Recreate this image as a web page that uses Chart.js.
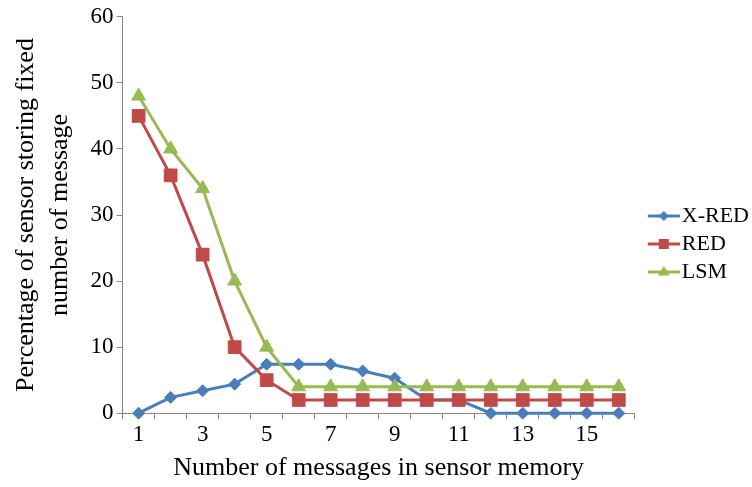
<!DOCTYPE html>
<html>
<head>
<meta charset="utf-8">
<script src="https://cdn.jsdelivr.net/npm/chart.js@4/dist/chart.umd.min.js"></script>
<style>
  html, body { margin: 0; padding: 0; background: #ffffff; }
  #wrap { width: 752px; height: 487px; position: relative; }
</style>
</head>
<body>
<div id="wrap"><canvas id="c" width="752" height="487"></canvas></div>
<script>
const categories = ['1','2','3','4','5','6','7','8','9','10','11','12','13','14','15','16'];
const xredValues = [0, 2.4, 3.4, 4.4, 7.4, 7.4, 7.4, 6.4, 5.3, 2, 2, 0, 0, 0, 0, 0];
const redValues  = [45, 36, 24, 10, 5, 2, 2, 2, 2, 2, 2, 2, 2, 2, 2, 2];
const lsmValues  = [48, 40, 34, 20, 10, 4, 4, 4, 4, 4, 4, 4, 4, 4, 4, 4];
const seriesNames = ['X-RED', 'RED', 'LSM'];
const yTicks = [0, 10, 20, 30, 40, 50, 60];

const BLUE = '#4A7EBB', RED = '#BE4B48', GREEN = '#98B954';
const AXIS = '#868686';
const FONT = "'Liberation Serif', 'Times New Roman', serif";

function legendIcon(color, style, r) {
  const cv = document.createElement('canvas');
  cv.width = 48; cv.height = 20;
  const g = cv.getContext('2d');
  g.strokeStyle = color; g.lineWidth = 3;
  g.beginPath(); g.moveTo(16, 10); g.lineTo(48, 10); g.stroke();
  g.fillStyle = color;
  const cx = 32;
  g.beginPath();
  if (style === 'rectRot') { g.moveTo(cx, 10 - r); g.lineTo(cx + r, 10); g.lineTo(cx, 10 + r); g.lineTo(cx - r, 10); }
  else if (style === 'rect') { g.rect(cx - r, 10 - r, 2 * r, 2 * r); }
  else { g.moveTo(cx, 10 - r); g.lineTo(cx + r, 10 + r * 0.6); g.lineTo(cx - r, 10 + r * 0.6); }
  g.closePath(); g.fill();
  return cv;
}
const icons = [legendIcon(BLUE, 'rectRot', 5), legendIcon(RED, 'rect', 5), legendIcon(GREEN, 'tri', 6)];

new Chart(document.getElementById('c'), {
  type: 'line',
  data: {
    labels: categories,
    datasets: [
      { label: seriesNames[0], data: xredValues, borderColor: BLUE, backgroundColor: BLUE, order: 3, clip: false,
        borderWidth: 3, pointStyle: 'rectRot', pointRadius: 6, pointBorderWidth: 1, tension: 0 },
      { label: seriesNames[1], data: redValues, borderColor: RED, backgroundColor: RED, order: 2, clip: false,
        borderWidth: 3, pointStyle: 'rect', pointRadius: 9, pointBorderWidth: 1, tension: 0 },
      { label: seriesNames[2], data: lsmValues, borderColor: GREEN, backgroundColor: GREEN, order: 1, clip: false,
        borderWidth: 3, pointStyle: 'triangle', pointRadius: 8, pointBorderWidth: 1, tension: 0 }
    ]
  },
  options: {
    responsive: false,
    animation: false,
    layout: { padding: { top: 4, right: -7, left: 9, bottom: 3 } },
    plugins: {
      tooltip: { enabled: false },
      legend: {
        position: 'right',
        labels: {
          usePointStyle: true,
          pointStyleWidth: 30,
          padding: 6,
          color: '#000',
          font: { family: FONT, size: 22 },
          generateLabels: (chart) => chart.data.datasets.map((ds, i) => ({
            text: ds.label, pointStyle: icons[i], fillStyle: ds.borderColor,
            strokeStyle: ds.borderColor, lineWidth: 0, datasetIndex: i, hidden: false, fontColor: '#000'
          }))
        }
      }
    },
    scales: {
      x: {
        type: 'category',
        offset: true,
        grid: { display: true, drawOnChartArea: false, drawTicks: true, tickLength: 6, offset: true, color: AXIS },
        border: { display: true, color: AXIS, width: 1 },
        ticks: {
          autoSkip: false, maxRotation: 0, color: '#000', padding: 2,
          font: { family: FONT, size: 23 },
          callback: function(v, i) { return i % 2 === 0 ? categories[i] : ''; }
        },
        title: { display: true, text: 'Number of messages in sensor memory', color: '#000',
                 font: { family: FONT, size: 26 }, padding: { top: 2, bottom: 0 } }
      },
      y: {
        min: 0, max: 60,
        afterBuildTicks: (axis) => { axis.ticks = yTicks.map(v => ({ value: v })); },
        grid: { display: true, drawOnChartArea: false, drawTicks: true, tickLength: 6, color: AXIS },
        border: { display: true, color: AXIS, width: 1 },
        ticks: { color: '#000', padding: 3, font: { family: FONT, size: 23 } },
        title: { display: true, text: ['Percentage of sensor storing fixed', 'number of message'], color: '#000',
                 font: { family: FONT, size: 26, lineHeight: 1.3 }, padding: { top: 0, bottom: 11 } }
      }
    }
  }
});
</script>
</body>
</html>
